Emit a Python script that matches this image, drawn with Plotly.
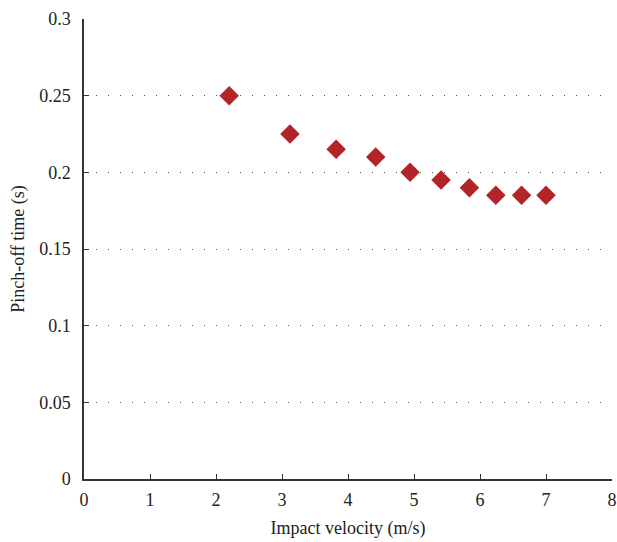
import plotly.graph_objects as go

velocity = [2.2, 3.12, 3.82, 4.42, 4.94, 5.41, 5.84, 6.24, 6.63, 7.0]
pinch_time = [0.25, 0.225, 0.215, 0.21, 0.2, 0.195, 0.19, 0.185, 0.185, 0.185]
x_ticks = [0, 1, 2, 3, 4, 5, 6, 7, 8]
y_ticks = [0, 0.05, 0.1, 0.15, 0.2, 0.25, 0.3]
y_tick_text = ["0", "0.05", "0.1", "0.15", "0.2", "0.25", "0.3"]

font_family = "Liberation Serif, DejaVu Serif, serif"

fig = go.Figure()
fig.add_trace(go.Scatter(
    x=velocity, y=pinch_time, mode="markers",
    marker=dict(symbol="diamond", size=15, color="#b22427", line=dict(width=0)),
    showlegend=False, cliponaxis=False,
))

fig.update_layout(
    width=617, height=542,
    margin=dict(l=84, r=5, t=19, b=63),
    paper_bgcolor="white", plot_bgcolor="white",
    font=dict(family=font_family, size=18, color="#222"),
    xaxis=dict(
        range=[0, 8], tickvals=x_ticks, ticks="inside", ticklen=5, tickwidth=1.2,
        tickcolor="#333", showline=True, linecolor="#333", linewidth=1.5,
        showgrid=False, zeroline=False, mirror=False, ticklabelstandoff=4,
        automargin=False,
        title=dict(text="Impact velocity (m/s)", font=dict(size=18), standoff=12),
    ),
    yaxis=dict(
        range=[0, 0.3], tickvals=y_ticks, ticktext=y_tick_text, ticks="inside",
        ticklen=5, tickwidth=1.2, tickcolor="#333",
        showline=True, linecolor="#333", linewidth=1.5,
        showgrid=True, gridcolor="#555", gridwidth=1, griddash="1px,11px",
        zeroline=False, ticklabelstandoff=8, automargin=False,
        title=dict(text="Pinch-off time (s)", font=dict(size=18), standoff=10),
    ),
)

fig.write_html("out.html")
